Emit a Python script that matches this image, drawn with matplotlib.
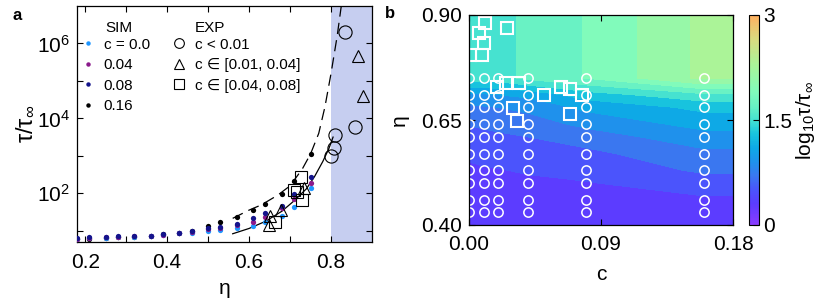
import numpy as np
import matplotlib
matplotlib.use('Agg')
import matplotlib.pyplot as plt
from matplotlib.colors import LinearSegmentedColormap, Normalize
from matplotlib.ticker import FixedLocator, NullFormatter, LogFormatterMathtext, FixedFormatter
from matplotlib.lines import Line2D
import matplotlib.cm as cm

plt.rcParams['font.family'] = ['Liberation Sans', 'DejaVu Sans']
plt.rcParams['mathtext.fontset'] = 'custom'
plt.rcParams['mathtext.rm'] = 'Liberation Sans'
plt.rcParams['mathtext.it'] = 'Liberation Sans:italic'
plt.rcParams['mathtext.bf'] = 'Liberation Sans:bold'

# ---------------- panel a data ----------------
eta_sim = [0.18, 0.21, 0.25, 0.28, 0.32, 0.36, 0.39, 0.43, 0.46, 0.50, 0.53, 0.57, 0.61, 0.64, 0.68, 0.71, 0.75]
tau_c000 = [6.03, 6.31, 6.46, 6.76, 6.92, 7.08, 7.59, 8.51, 8.91, 10.0, 10.5, 11.7, 13.5, 16.6, 24.0, 43.7, 135]
tau_c004 = [6.17, 6.46, 6.61, 6.92, 7.08, 7.24, 7.76, 8.71, 9.33, 11.0, 11.7, 13.8, 16.6, 22.9, 39.8, 69.2, 191]
tau_c008 = [6.31, 6.76, 6.76, 7.08, 7.24, 7.41, 7.94, 8.91, 10.0, 12.0, 12.9, 15.1, 21.4, 29.5, 45.7, 93.3, 275]
tau_c016 = [6.03, 5.89, 6.31, 6.76, 6.92, 7.41, 8.13, 8.91, 10.0, 13.5, 17.4, 22.9, 34.7, 51.3, 93.3, 214, 1122]

exp_circ_eta = [0.833, 0.809, 0.807, 0.801, 0.859]
exp_circ_tau = [2.04e6, 3.55e3, 1.66e3, 977, 5.75e3]
exp_tri_eta = [0.866, 0.879, 0.651, 0.648, 0.677, 0.735]
exp_tri_tau = [4.57e5, 3.98e4, 25.0, 14.0, 35.5, 135]
exp_sq_eta = [0.726, 0.710, 0.716, 0.728, 0.663]
exp_sq_tau = [275, 123, 105, 66, 17]

fit_solid_eta = [0.56, 0.60, 0.64, 0.68, 0.71, 0.74, 0.76, 0.78, 0.795, 0.805]
fit_solid_tau = [8.3, 11.5, 17.8, 33.1, 63.1, 132, 282, 708, 1585, 3162]
fit_dash_eta = [0.56, 0.60, 0.63, 0.67, 0.70, 0.73, 0.75, 0.77, 0.785, 0.80, 0.815, 0.825]
fit_dash_tau = [21.4, 35.5, 49.0, 89.1, 158, 447, 1122, 3981, 2.0e4, 1.58e5, 1.58e6, 1.0e7]

shade_range = [0.8, 0.9]

# ---------------- panel b data ----------------
c_grid = [0.0, 0.01, 0.02, 0.04, 0.08, 0.16, 0.18]
eta_grid = [0.40, 0.43, 0.46, 0.50, 0.53, 0.57, 0.61, 0.64, 0.68, 0.71, 0.75, 0.90]
# log10 tau/tau_inf, rows = eta_grid, cols = c_grid
z_rows = [
    [0.22, 0.22, 0.23, 0.24, 0.26, 0.27, 0.27],
    [0.25, 0.25, 0.26, 0.27, 0.29, 0.31, 0.31],
    [0.28, 0.29, 0.30, 0.31, 0.33, 0.37, 0.37],
    [0.32, 0.33, 0.34, 0.36, 0.39, 0.50, 0.50],
    [0.36, 0.38, 0.39, 0.42, 0.46, 0.63, 0.63],
    [0.44, 0.46, 0.47, 0.50, 0.55, 0.75, 0.75],
    [0.53, 0.55, 0.57, 0.60, 0.70, 0.92, 0.92],
    [0.61, 0.63, 0.65, 0.70, 0.85, 1.07, 1.07],
    [0.76, 0.78, 0.80, 0.85, 1.05, 1.25, 1.25],
    [0.95, 0.97, 1.00, 1.05, 1.30, 1.55, 1.55],
    [1.50, 1.50, 1.52, 1.65, 1.81, 2.25, 2.25],
    [1.50, 1.50, 1.52, 1.65, 1.81, 2.25, 2.25],
]
levels = [0.0, 0.2, 0.4, 0.6, 0.8, 1.0, 1.2, 1.4, 1.6, 1.8, 2.0, 2.2, 2.4, 2.6, 2.8, 3.0]
sim_c = [0.0, 0.01, 0.02, 0.04, 0.08, 0.16]
sim_eta = [0.43, 0.46, 0.50, 0.53, 0.57, 0.61, 0.64, 0.68, 0.71, 0.75]
exp_c = [0.011, 0.007, 0.010, 0.001, 0.009, 0.026, 0.019, 0.025, 0.034, 0.030, 0.033, 0.051, 0.063, 0.069, 0.077, 0.069]
exp_eta = [0.880, 0.858, 0.834, 0.805, 0.805, 0.868, 0.728, 0.739, 0.737, 0.678, 0.648, 0.709, 0.728, 0.725, 0.710, 0.664]

cmap_vals = [0.0, 0.3, 0.5, 0.7, 0.9, 1.1, 1.3, 1.5, 1.7, 1.9, 2.1, 2.3, 2.65, 3.0]
cmap_cols = ['#8a3cff', '#5b3cff', '#4a55fc', '#3a78f0', '#1e92ec', '#0eaae6', '#18c4de',
             '#45e2d0', '#68f2c4', '#80fbbc', '#96f8a8', '#aaf498', '#d8dc80', '#ffb060']
cmap = LinearSegmentedColormap.from_list('cm', list(zip([v / 3.0 for v in cmap_vals], cmap_cols)))
norm = Normalize(0, 3)

fig = plt.figure(figsize=(8.3, 3.04), dpi=100)

FS = 15
# ---------------- panel a ----------------
ax = fig.add_axes([77 / 830, 1 - 242 / 304, 295 / 830, 236 / 304])
ax.axvspan(shade_range[0], shade_range[1], color='#c6cef0', lw=0, zorder=0)
ax.plot(fit_solid_eta, fit_solid_tau, color='k', lw=0.9, zorder=2)
ax.plot(fit_dash_eta, fit_dash_tau, color='k', lw=0.9, dashes=(9, 5), zorder=2)
ms_sim = 3.8
ax.plot(eta_sim, tau_c016, 'o', color='black', ms=ms_sim, mew=0, zorder=3)
ax.plot(eta_sim, tau_c000, 'o', color='#1e96ff', ms=ms_sim, mew=0, zorder=3)
ax.plot(eta_sim, tau_c004, 'o', color='#8b1a8b', ms=ms_sim, mew=0, zorder=3)
ax.plot(eta_sim, tau_c008, 'o', color='#14148c', ms=ms_sim, mew=0, zorder=3)
ax.plot(exp_circ_eta, exp_circ_tau, 'o', mfc='none', mec='k', ms=9.5, mew=0.8, zorder=4)
ax.plot(exp_tri_eta, exp_tri_tau, '^', mfc='none', mec='k', ms=8.5, mew=0.8, zorder=4)
ax.plot(exp_sq_eta, exp_sq_tau, 's', mfc='none', mec='k', ms=9, mew=0.8, zorder=4)
ax.set_yscale('log')
ax.set_xlim(0.18, 0.90)
ax.set_ylim(5, 1e7)
ax.xaxis.set_major_locator(FixedLocator([0.2, 0.4, 0.6, 0.8]))
ax.xaxis.set_minor_locator(FixedLocator([0.3, 0.5, 0.7]))
ax.yaxis.set_major_locator(FixedLocator([1e2, 1e4, 1e6]))
ax.yaxis.set_minor_locator(FixedLocator([1e1, 1e3, 1e5]))
ax.yaxis.set_major_formatter(LogFormatterMathtext())
ax.yaxis.set_minor_formatter(NullFormatter())
ax.tick_params(which='both', direction='in', top=True, right=True, length=4, width=0.8, labelsize=FS, pad=5)
ax.tick_params(axis='x', which='both', pad=8)
ax.set_xlabel('η', fontsize=FS, labelpad=5)
ax.set_ylabel(r'$\mathregular{τ/τ_{∞}}$', fontsize=17, labelpad=0)
for s in ax.spines.values():
    s.set_linewidth(0.9)

lfs = 11
h_sim = [Line2D([], [], ls='none', marker='o', color=c, ms=3.2, mew=0) for c in ['#1e96ff', '#8b1a8b', '#14148c', 'black']]
leg1 = ax.legend(h_sim, ['c = 0.0', '0.04', '0.08', '0.16'], loc='upper left', bbox_to_anchor=(-0.005, 0.885),
                 frameon=False, fontsize=lfs, handlelength=1.0, handletextpad=0.55, labelspacing=0.42,
                 borderpad=0, borderaxespad=0.3)
ax.add_artist(leg1)
h_exp = [Line2D([], [], ls='none', marker=m, mfc='none', mec='k', ms=s, mew=0.8) for m, s in [('o', 7), ('^', 6.5), ('s', 7)]]
leg2 = ax.legend(h_exp, ['c < 0.01', 'c ∈ [0.01, 0.04]', 'c ∈ [0.04, 0.08]'], loc='upper left',
                 bbox_to_anchor=(0.305, 0.885), frameon=False, fontsize=lfs, handlelength=1.0,
                 handletextpad=0.55, labelspacing=0.42, borderpad=0, borderaxespad=0.3)
ax.text(0.095, 0.905, 'SIM', transform=ax.transAxes, fontsize=lfs, va='center', ha='left')
ax.text(0.40, 0.905, 'EXP', transform=ax.transAxes, fontsize=lfs, va='center', ha='left')

fig.text(17 / 830, 1 - 15 / 304, 'a', fontsize=12, fontweight='bold', ha='center', va='center')
fig.text(390 / 830, 1 - 13 / 304, 'b', fontsize=12, fontweight='bold', ha='center', va='center')

# ---------------- panel b ----------------
bx = fig.add_axes([469 / 830, 1 - 225 / 304, 264 / 830, 210 / 304])
Z = np.array(z_rows)
bx.contourf(c_grid, eta_grid, Z, levels=levels, cmap=cmap, norm=norm)
SC, SE = np.meshgrid(sim_c, sim_eta)
bx.plot(SC.ravel(), SE.ravel(), 'o', mfc='none', mec='white', ms=6.7, mew=1.1)
bx.plot(exp_c, exp_eta, 's', mfc='none', mec='white', ms=8, mew=1.5)
bx.set_xlim(0, 0.18)
bx.set_ylim(0.40, 0.90)
bx.xaxis.set_major_locator(FixedLocator([0.0, 0.09, 0.18]))
bx.xaxis.set_major_formatter(FixedFormatter(['0.00', '0.09', '0.18']))
bx.yaxis.set_major_locator(FixedLocator([0.40, 0.65, 0.90]))
bx.yaxis.set_major_formatter(FixedFormatter(['0.40', '0.65', '0.90']))
bx.tick_params(direction='in', top=True, right=True, length=4, width=0.8, labelsize=FS, pad=5)
bx.tick_params(axis='x', pad=7)
bx.set_xlabel('c', fontsize=FS, labelpad=8)
bx.set_ylabel('η', fontsize=FS, labelpad=9)
for s in bx.spines.values():
    s.set_linewidth(0.9)

cax = fig.add_axes([749 / 830, 1 - 225 / 304, 10 / 830, 210 / 304])
sm = cm.ScalarMappable(norm=norm, cmap=cmap)
cb = fig.colorbar(sm, cax=cax, ticks=[0, 1.5, 3])
cb.ax.set_yticklabels(['0', '1.5', '3'])
cb.ax.tick_params(direction='in', length=4, width=0.8, labelsize=FS, pad=3)
cb.outline.set_linewidth(0.8)
cb.set_label(r'$\mathregular{log_{10}τ/τ_{∞}}$', fontsize=15, labelpad=1)

fig.savefig('out.png', dpi=100)
